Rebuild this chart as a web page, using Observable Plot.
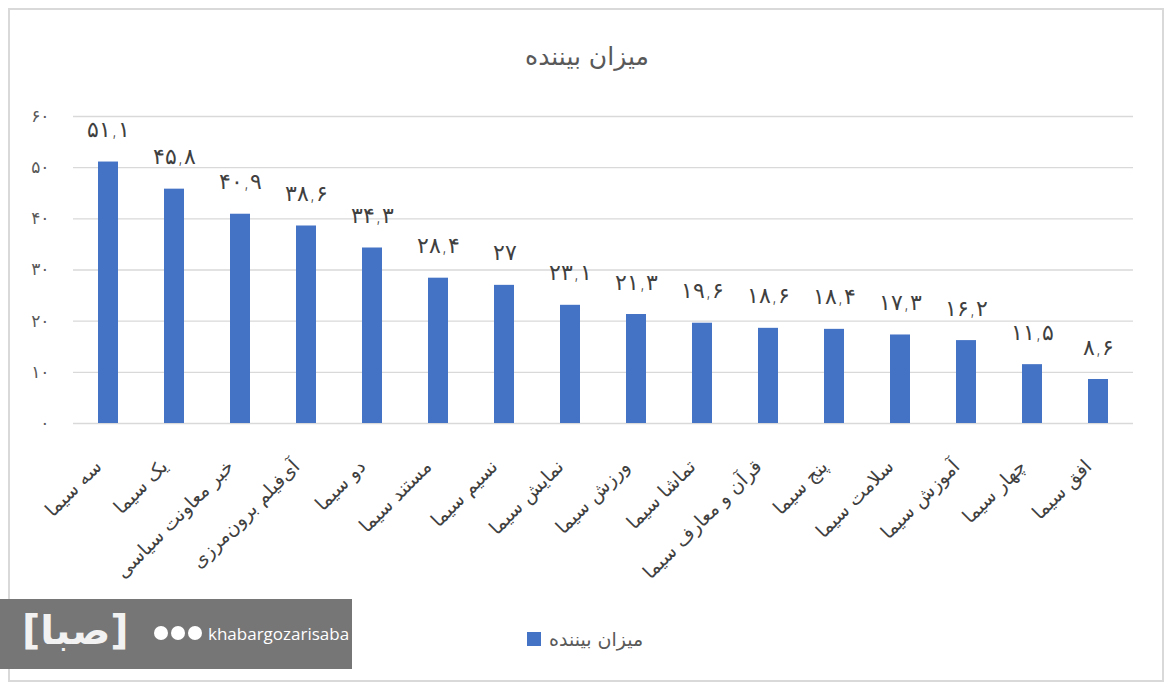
<!DOCTYPE html>
<html><head><meta charset="utf-8">
<script src="https://cdn.jsdelivr.net/npm/d3@7"></script>
<script src="https://cdn.jsdelivr.net/npm/@observablehq/plot@0.6"></script>
<style>
body{margin:0;background:#fff;font-family:"DejaVu Sans",sans-serif;}
#wrap{position:relative;width:1174px;height:691px;overflow:hidden;background:#fff;}
#frame{position:absolute;left:8px;top:8px;width:1152px;height:670px;border:2px solid #d9d9d9;}
#title{position:absolute;left:0;width:1174px;top:42px;text-align:center;font-size:25px;color:#595959;}
#chart{position:absolute;left:0;top:90px;}
#legend{position:absolute;left:527px;top:628px;display:flex;align-items:center;font-size:19px;color:#595959;}
#legend .sw{width:14px;height:14px;background:#4472c4;margin-right:8px;}
#wm{position:absolute;left:0;top:599px;width:352px;height:70px;background:#767676;color:#fff;}
#wm .t{position:absolute;left:208px;top:23px;font-size:17px;font-family:"Open Sans",sans-serif;}
#wm .logo{position:absolute;left:22px;top:8px;font-size:40px;font-weight:bold;color:#f2f2f2;}
#wm .ic{position:absolute;top:27px;width:14px;height:14px;border-radius:50%;background:#fff;}
</style></head>
<body><div id="wrap">
<div id="frame"></div>
<div id="title">میزان بیننده</div>
<div id="chart"></div>
<div id="legend"><div class="sw"></div><span>میزان بیننده</span></div>
<div id="wm"><div class="logo">[صبا]</div><div class="ic" style="left:154px"></div><div class="ic" style="left:171px"></div><div class="ic" style="left:188px"></div><div class="t">khabargozarisaba</div></div>
</div>
<script>
const categories = ["سه سیما","یک سیما","خبر معاونت سیاسی","آی‌فیلم برون‌مرزی","دو سیما","مستند سیما","نسیم سیما","نمایش سیما","ورزش سیما","تماشا سیما","قرآن و معارف سیما","پنج سیما","سلامت سیما","آموزش سیما","چهار سیما","افق سیما"];
const values = [51.1,45.8,40.9,38.6,34.3,28.4,27,23.1,21.3,19.6,18.6,18.4,17.3,16.2,11.5,8.6];
const yTicks = [0,10,20,30,40,50,60];

const fa = v => String(v).replace(".", ",").replace(/\d/g, d => "۰۱۲۳۴۵۶۷۸۹"[d]);
const data = categories.map((c,i) => ({cat:c, value:values[i]}));

const plot = Plot.plot({
  width: 1174,
  height: 520,
  marginTop: 26,
  marginBottom: 187,
  marginLeft: 73,
  marginRight: 41,
  style: {fontFamily: "DejaVu Sans, sans-serif", background: "transparent"},
  x: {domain: categories, paddingInner: 0.7, paddingOuter: 0.35, label: null},
  y: {domain: [0,60], label: null},
  marks: [
    Plot.ruleY(yTicks, {stroke: "#d9d9d9", strokeWidth: 1.3}),
    Plot.barY(data, {x: "cat", y: "value", fill: "#4472c4"}),
    Plot.text(data, {x: "cat", y: "value", text: d => fa(d.value), dy: -32, fontSize: 22, fill: "#404040", fontWeight: 300}),
    Plot.axisY({ticks: yTicks, tickFormat: fa, tickSize: 0, tickPadding: 24, fontSize: 17, fill: "#595959"}),
    Plot.axisX({tickSize: 0, tickPadding: 30, tickRotate: -45, fontSize: 19, fill: "#404040", dx: -10, dy: 10})
  ]
});
document.getElementById("chart").appendChild(plot);
</script>
</body></html>
